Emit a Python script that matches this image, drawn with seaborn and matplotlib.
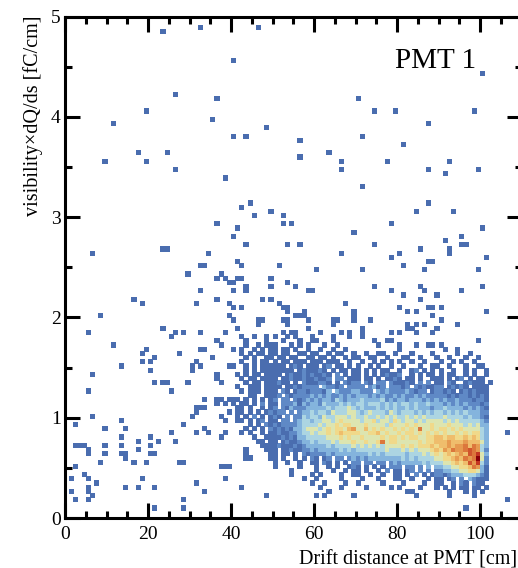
import numpy as np
import pandas as pd
import seaborn as sns
import matplotlib.pyplot as plt
from matplotlib.colors import ListedColormap
from matplotlib.ticker import MultipleLocator

# histogram binning: 1 cm in drift distance, 120 bins over 0-5 fC/cm
x_edges = np.arange(0, 111, 1)
y_edges = np.linspace(0, 5, 121)

# single-entry bins above 2.5 fC/cm (bin centres)
halo_x = [23.5, 32.5, 46.5, 40.5, 26.5, 36.5, 19.5, 35.5, 11.5, 40.5,
          43.5, 17.5, 24.5, 9.5, 19.5, 26.5, 38.5, 6.5,
          100.5, 70.5, 74.5, 79.5, 98.5, 48.5, 87.5, 56.5, 71.5, 81.5,
          56.5, 63.5, 66.5, 66.5, 77.5, 92.5, 87.5, 91.5, 99.5,
          44.5, 42.5, 49.5, 45.5, 52.5, 36.5, 52.5, 54.5, 41.5, 40.5,
          43.5, 53.5, 56.5, 23.5, 24.5, 34.5, 41.5, 42.5, 32.5, 33.5, 51.5,
          71.5, 87.5, 84.5, 93.5, 78.5, 100.5, 69.5, 95.5, 91.5, 74.5,
          95.5, 96.5, 85.5, 92.5, 66.5, 80.5, 92.5, 78.5, 101.5, 87.5,
          88.5, 81.5]
halo_y = [4.85, 4.90, 4.90, 4.56, 4.23, 4.19, 4.06, 3.98, 3.94, 3.81,
          3.81, 3.65, 3.65, 3.56, 3.56, 3.48, 3.40, 2.65,
          4.44, 4.19, 4.06, 4.06, 4.06, 3.90, 3.94, 3.77, 3.81, 3.73,
          3.60, 3.65, 3.56, 3.48, 3.56, 3.56, 3.48, 3.44, 3.48,
          3.15, 3.10, 3.06, 3.02, 3.02, 2.94, 2.94, 2.94, 2.90, 2.81,
          2.73, 2.73, 2.73, 2.69, 2.69, 2.65, 2.56, 2.52, 2.52, 2.52, 2.52,
          3.31, 3.15, 3.06, 3.06, 2.94, 2.90, 2.85, 2.81, 2.77, 2.73,
          2.73, 2.73, 2.69, 2.69, 2.65, 2.65, 2.65, 2.60, 2.60, 2.56,
          2.56, 2.52]

# entries per bin below 2.5 fC/cm, top bin row first, blocks of 10 cm
# '.' empty, 1-9, a-d = 10-13
low_rows = [
    ".......... .......... .......... .......... .......... .......... 1......... .1........ ......1... .........1",
    ".......... .......... .........1 .......1..",
    ".......... .......... .......... ......1.1. .11......1",
    ".......... .......... .......... .........1 1......... ...1......",
    ".......... .......... .......... .......... ...1.....1 .....1.... .......... ....1..... .....1.... .......... 1",
    ".......... .......... .......... ..1....... 1..1...... ........11 .......... ........1. ......1... .....1",
    ".......... .......... .......... .......... .......... .......... .......... .......... .1.......1",
    ".......... ......1... .......... ......1... .......1.1 .......... .......... .......... .....1",
    ".......... ........1. .......... .1.......1 .......... .1........ .......1",
    ".......... .......... .......... .......... 1.1....... ..11...... .......... .......... 1......11. 1",
    ".......... .......... .......... .......... .......... ...1...1.. .........1 .......... ..1.1..... .......... .1",
    "........1. .......... .......... .........1 .......... .....111.. .........1 .......... ........1",
    ".......... .......... .......... .......... 1.....11.. ..11....1. ....11...1 ...1...... .......... 1",
    ".......... .......... .......... .......... ......1... ...1...... ....1..... .......... ..1.1.1... ....1",
    ".......... .......... ...1...... .......... .1........ ........1. .......... .1........ ..11.....1",
    ".....1.... .......... ......1.1. ..1.....1. .......... ..1.11.... .1....1.1. .1......1. 1...1...1.",
    ".......... .......... .....1.... .......... ..1..1..1. 1..1.1...1 ....1...1. .1",
    ".......... .......... .......... ......1... ...1....1. ..1...1..1 1...1..... ....1..11. .......... .........1",
    ".......... .1........ .......... .......1.. ...1..1.11 1...1.1.1. ..1..1.... .....1.... 1...1..11. 1",
    ".......... .........1 .......... ..11...... 1.1..1.1.1 1.11.1..1. .1..1..1.. .......... 1......... .1..1",
    ".......... ........1. .......1.. .......... ..1.1.11.1 1.11..11.1 1..1.11..1 ..1..11..1 ...1....1. ....1..1",
    ".......... .......... .1........ .....1.... ...1.1..11 .11.11..11 .11.1..1.1 1..11..1.. .11..1...1 ..1...1..1",
    ".......... ........1. 1......... .1........ ..1..1.11. 1.11.111.1 11.111..1. .1..1.1.1. 1..1..1... 1..1.1..1",
    ".......... ...1...... .......... 1.1......1 1..1.1.111 111.121.11 1.12.11.1. 1..1.1..1. .1...1..11 ..1...1..1 1",
    ".......... .......... 1......... 1......... ...1.1.111 11111.1211 121.1.11.1 1.1.1.11.. 1..12.1.1. 1..1..1.1. .1",
    "......1... .......... .......... ......1... .1.1.11.11 11.1211212 1121.2.1.1 1.1.1.1211 2..1.1.11. 1.11..1.1. .1",
    ".......... .......... .......... ......1... ..1.11.111 1.11211211 2112.22.11 1.11.1.112 1.11.1..11 1.1.12.1.1 1",
    ".......... .......... .1.11....1 .......1.. ...1.11.11 1211.1.211 1221.1.212 2.21.22.21 1121.2.2.1 1.21..1211 1.1",
    ".......... .......... .......... .......... .1..111.11 11.1121222 2.32212.22 22.2312.22 212.212112 2.12121.11 11",
    ".....1.... .......... .....1.... .......... ..1.111.11 1.21.12212 2213.32223 3222.32322 2232122.12 2121.12121 11",
    ".......... .......... .......... .......... ....11..11 12.2122223 2323223232 3332323223 2322323222 2212122121 21",
    ".......... .......... .......... ...1..11.1 11.1.1.1.1 2.22.21232 3233243233 3433334232 3323332323 2322322212 21",
    ".......... .......... .......... ......1.1. 1.11.1.2.1 1.22231323 3243334343 4434443434 3443433433 3232323222 12",
    ".......... .......... .......... .111...... .11.1..1.1 2.21322233 3334344454 3433343434 3343433323 3433332323 21",
    ".......... .......... .......... .1.......1 .11.1.1.12 122.2.2334 3443544455 4345444354 3444343434 4343434333 22",
    "......1... .......... .......... 1......1.. .1.1.2.1.1 21.2.22434 4354455545 4454454545 4454545444 4544443433 21",
    ".......... ...1...... .......... ........1. .11.1.12.1 1.22.23443 4455456555 5455645546 5455454555 5454544444 32",
    "..1....... .......... ........1. .......... ....1.1.21 2122223444 4545565665 5565555465 5565655565 5565554545 33",
    ".........1 ....1..... .......... ...1...... ...1.1.1.2 1212133455 5456566578 5575656556 5656595565 6656565555 43",
    ".......... .......... .....1.... .1..1...1. ..1.1..1.1 1211223445 4556567666 6556675655 6566565656 5655656566 43....1",
    ".......... ...1...... 1......... .......1.. .....1..11 1121213344 4445556565 5655556566 5656655667 7677667676 43",
    ".......... .......1.. ..1...1... .......... ......11.1 1.12112334 3444545556 5565569566 5555565667 7787778777 53",
    "..111....1 ...1...... 1......... .......... .......111 1211121233 3334344445 4545454555 5656566676 7787889798 43",
    ".....1.... .......1.. .......... .......... ...1....11 1.11211223 2333334343 4444444544 4545455567 6879889a98 42",
    ".....1...1 ...11..... 11........ .......... ...1.....1 1.11.1.212 2223233333 3334343444 4434445456 5676787a9b 53",
    ".......... ....1..... .......... .......... ...11....1 1.1..1.1.2 1.12.22.23 2323333333 3434344445 566787989d 52",
    "........1. ......1..1 .......11. .......... .......... 1..1..1..1 1.21.1.1.2 2.22.22.23 2333334344 4556767a8b 42",
    "..1....... .......... .......... .......111 .......... 1.....1... 1..1.1..12 1.1.1.1.22 2.22.2.3.3 3445566798 31",
    ".......... .......... .......... .......... .......... ....1..... 1...1..1.1 1.1..1.2.1 1.12.2.2.2 2334455665 31",
    "....1..... .......... .......... .......... .......... ....1....1 .1....1..1 1..1..1..1 1.1.2.1.12 2123334443 21",
    ".1...1.... ........1. .......... ........1. .......... .......1.. 1.....1... .1...1...1 1..1...1.1 1.12.2.321 11",
    ".......1.. .......... .......... .1........ .......... .........1 ..1....1.. 1.....1... .1....1..1 1..1.21.21 1",
    ".....1.... ....1..1.. .1........ .......... ..1....... .......... .1....1... ..1.....1. 1....1...1 .1.1.11.11 .1",
    ".1...1.... .......... .......... ...1...... .......... .......... ...1...... .......... ..11...... ..1...1.1. 1",
    "......1... .......... .......... .......... ........1. .......... 1.1......1 .......... ....1..... ..1.....1.",
    "..1..1.... .......... ........1. .......... .......... .......... .......... .......... .......... .......... ......1",
    "",
    ".......... .......... .1......1. .......... .......... .......... .......... .......... .......... ......1...",
    "",
    "",
]

# colour per entry count 1..13
level_colors = ['#4a6daf', '#5f89c6', '#84b4dd', '#acd5e2', '#dde5b0',
                '#f0d98a', '#efbd6c', '#e69a50', '#dc773c', '#d0542d',
                '#c43622', '#a81818', '#8a0008']
cmap = ListedColormap(level_colors)

xs = list(halo_x)
ys = list(halo_y)
ns = [1] * len(halo_x)
dy = y_edges[1] - y_edges[0]
for i, row in enumerate(low_rows):
    row = row.replace(' ', '')
    ybin = 59 - i
    for col, ch in enumerate(row):
        if ch != '.':
            xs.append(x_edges[col] + 0.5)
            ys.append(y_edges[ybin] + dy / 2)
            ns.append(int(ch, 16))

df = pd.DataFrame({'drift': xs, 'dqds': ys, 'n': ns})

plt.rcParams['font.family'] = 'Liberation Serif'

fig = plt.figure(figsize=(5.18, 5.68), dpi=100)
ax = fig.add_axes([0.1255, 0.0880, 0.8813, 0.8829])

sns.histplot(
    data = df,
    x = 'drift',
    y = 'dqds',
    weights = 'n',
    bins = [x_edges, y_edges],
    cmap = cmap,
    ax = ax
)
mesh = ax.collections[0]
mesh.set_clim(0.5, 13.5)
mesh.set_edgecolor('face')
mesh.set_linewidth(0.7)

ax.set_xlim(0, 110)
ax.set_ylim(0, 5)
ax.set_xlabel('')
ax.set_ylabel('')
ax.xaxis.set_major_locator(MultipleLocator(20))
ax.xaxis.set_minor_locator(MultipleLocator(5))
ax.yaxis.set_major_locator(MultipleLocator(1))
ax.yaxis.set_minor_locator(MultipleLocator(0.5))
ax.tick_params(which='both', direction='in', top=True, right=True,
               width=2.2, labelsize=14, colors='black')
ax.tick_params(which='major', length=10.5)
ax.tick_params(which='minor', length=5)
ax.tick_params(axis='x', pad=6)
ax.tick_params(axis='y', pad=3)
for s in ax.spines.values():
    s.set_linewidth(2.2)

fig.text(33 / 518, 1 - 15 / 568, 'visibility×dQ/ds [fC/cm]', rotation=90,
         ha='center', va='top', fontsize=14.5)
fig.text(517 / 518, 4 / 568, 'Drift distance at PMT [cm]',
         ha='right', va='baseline', fontsize=14.5)
fig.text(476 / 518, 1 - 68 / 568, 'PMT 1', ha='right', va='baseline', fontsize=21)

fig.savefig('out.png', dpi=100)
